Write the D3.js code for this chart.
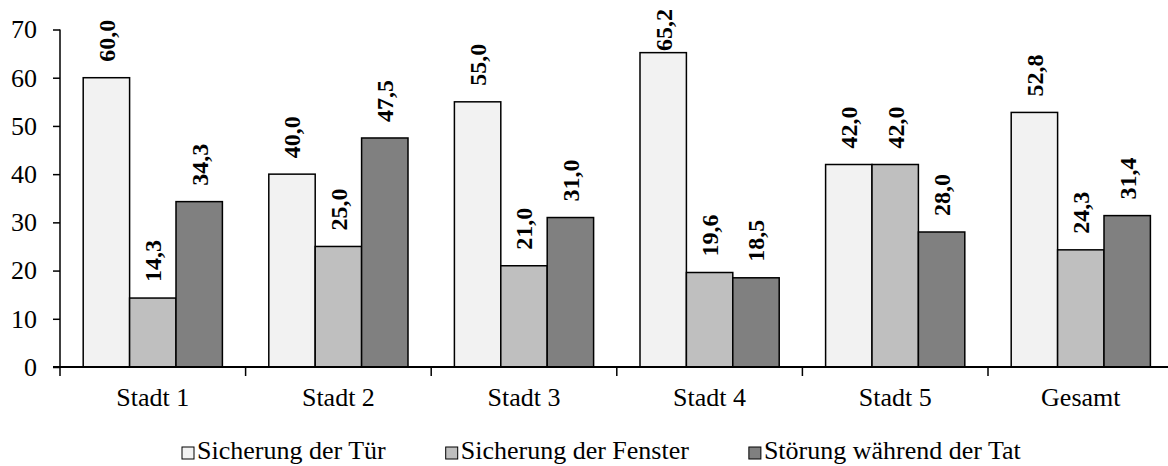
<!DOCTYPE html>
<html>
<head>
<meta charset="utf-8">
<script src="https://cdn.jsdelivr.net/npm/d3@7"></script>
<style>
  body { margin: 0; background: #fff; }
  svg { display: block; }
  svg text { font-family: 'Liberation Serif', 'Times New Roman', Times, serif; }
</style>
</head>
<body>
<svg id="chart" width="1168" height="466"></svg>
<script>
// data
const categories = ['Stadt 1', 'Stadt 2', 'Stadt 3', 'Stadt 4', 'Stadt 5', 'Gesamt'];
const seriesNames = ['Sicherung der Tür', 'Sicherung der Fenster', 'Störung während der Tat'];
const tuer     = [60.0, 40.0, 55.0, 65.2, 42.0, 52.8];
const fenster  = [14.3, 25.0, 21.0, 19.6, 42.0, 24.3];
const stoerung = [34.3, 47.5, 31.0, 18.5, 28.0, 31.4];
const yTicks = [0, 10, 20, 30, 40, 50, 60, 70];
const colors = ['#f2f2f2', '#bfbfbf', '#808080'];

const seriesValues = [tuer, fenster, stoerung];
const rows = categories.map((c, i) => ({
    cat: c,
    vals: seriesNames.map((s, j) => ({key: s, idx: j, value: seriesValues[j][i]}))
}));

const svg = d3.select('#chart');
const plotLeft = 60, plotBottom = 367, plotTop = 29.5;
const fontSize = 26, labelSize = 24;
const serif = "'Liberation Serif', 'Times New Roman', Times, serif";

const x0 = d3.scaleBand()
    .domain(categories)
    .range([plotLeft, plotLeft + 185.6 * categories.length])
    .padding(0);

const x1 = d3.scaleBand()
    .domain(seriesNames)
    .range([0, x0.bandwidth()])
    .paddingOuter(0.5)
    .paddingInner(0);

const y = d3.scaleLinear()
    .domain([0, 70])
    .range([plotBottom, plotTop]);

// bars
const groups = svg.append('g')
    .selectAll('g')
    .data(rows)
    .enter()
    .append('g')
        .attr('transform', d => `translate(${x0(d.cat)},0)`);

groups.selectAll('rect')
    .data(d => d.vals)
    .enter()
    .append('rect')
        .attr('x', d => x1(d.key))
        .attr('y', d => y(d.value))
        .attr('width', x1.bandwidth())
        .attr('height', d => y(0) - y(d.value))
        .attr('fill', d => colors[d.idx])
        .attr('stroke', '#000')
        .attr('stroke-width', 1.5);

// value labels, rotated; kept inside the top edge like the original
groups.selectAll('text')
    .data(d => d.vals)
    .enter()
    .append('text')
        .attr('transform', d => `translate(${x1(d.key) + x1.bandwidth() / 2},${Math.max(y(d.value) - 16, 51)}) rotate(-90)`)
        .attr('dy', '0.35em')
        .attr('font-family', serif)
        .attr('font-size', labelSize)
        .attr('font-weight', 'bold')
        .attr('fill', '#000')
        .text(d => d.value.toFixed(1).replace('.', ','));

// y axis
const yAxis = d3.axisLeft(y)
    .tickValues(yTicks)
    .tickSize(7)
    .tickPadding(16)
    .tickFormat(d3.format('d'));

const yG = svg.append('g')
    .attr('transform', `translate(${plotLeft},0)`)
    .call(yAxis)
    .attr('font-family', serif)
    .attr('font-size', fontSize);
yG.select('.domain').remove();
yG.selectAll('line').attr('stroke', '#000').attr('stroke-width', 1.5);
yG.selectAll('text').attr('fill', '#000');

svg.append('line')
    .attr('x1', plotLeft).attr('x2', plotLeft)
    .attr('y1', y(70)).attr('y2', y(0) + 9)
    .attr('stroke', '#000').attr('stroke-width', 1.5);

// x axis
svg.append('line')
    .attr('x1', plotLeft - 7).attr('x2', x0.range()[1])
    .attr('y1', y(0)).attr('y2', y(0))
    .attr('stroke', '#000').attr('stroke-width', 2);

svg.append('g')
    .selectAll('line')
    .data(categories.slice(1).concat(['end']))
    .enter()
    .append('line')
        .attr('x1', d => d === 'end' ? x0.range()[1] : x0(d))
        .attr('x2', d => d === 'end' ? x0.range()[1] : x0(d))
        .attr('y1', y(0)).attr('y2', y(0) + 9)
        .attr('stroke', '#000').attr('stroke-width', 1.5);

svg.append('g')
    .selectAll('text')
    .data(categories)
    .enter()
    .append('text')
        .attr('x', d => x0(d) + x0.bandwidth() / 2)
        .attr('y', 406)
        .attr('text-anchor', 'middle')
        .attr('font-family', serif)
        .attr('font-size', fontSize)
        .attr('fill', '#000')
        .text(d => d);

// legend
const legend = svg.append('g').attr('transform', 'translate(182,459)');
let lx = 0;
seriesNames.forEach((s, i) => {
    const item = legend.append('g').attr('transform', `translate(${lx},0)`);
    item.append('rect')
        .attr('x', 0).attr('y', -12)
        .attr('width', 12).attr('height', 12)
        .attr('fill', colors[i])
        .attr('stroke', '#000')
        .attr('stroke-width', 1);
    const t = item.append('text')
        .attr('x', 15)
        .attr('font-family', serif)
        .attr('font-size', fontSize)
        .attr('fill', '#000')
        .text(s);
    lx += 15 + t.node().getComputedTextLength() + 60;
});
</script>
</body>
</html>
